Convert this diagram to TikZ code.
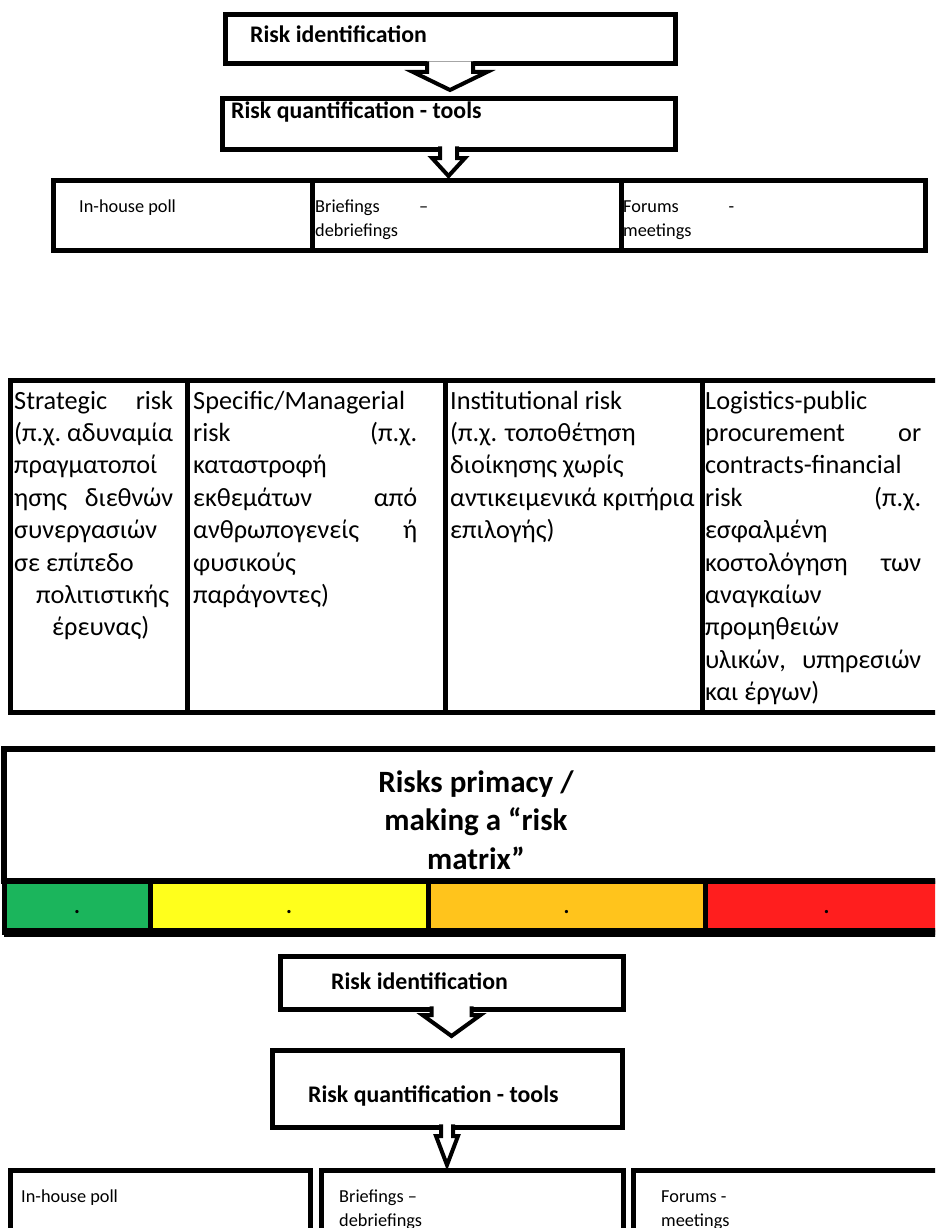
\documentclass[tikz,border=0pt]{standalone}
\usepackage{fontspec}
\setmainfont{Carlito}
\usepackage{tikz}
\usepackage{xcolor}
\usetikzlibrary{calc}

\definecolor{lowgreen}{RGB}{27,181,92}
\definecolor{midyellow}{RGB}{255,255,28}
\definecolor{highorange}{RGB}{255,196,28}
\definecolor{critred}{RGB}{255,30,30}

\newcommand{\jline}[3]{\makebox[#1][l]{#2\hfill#3}}
\newcommand{\blockdown}[6]{%
  \filldraw[blockarrow] let \p1=(#1.south), \p2=(#2.north) in
    (\x1-#3pt,\y1+2.6pt) -- (\x1-#3pt,\y1-#5pt) -- (\x1-#4pt,\y1-#5pt)
    -- (\x1,\y2+#6pt) -- (\x1+#4pt,\y1-#5pt) -- (\x1+#3pt,\y1-#5pt)
    -- (\x1+#3pt,\y1+2.6pt);}

\tikzset{
  box/.style={rectangle, draw=black, line width=5pt, outer sep=0pt, inner sep=0pt},
  boxlabel/.style={anchor=base west, inner sep=0pt, font=\bfseries\fontsize{23.8}{28}\selectfont},
  celltext/.style={anchor=base west, inner sep=0pt, align=flush left, font=\fontsize{18.3}{24}\selectfont},
  gridtext/.style={anchor=base west, inner sep=0pt, align=flush left, font=\fontsize{26.3}{32.4}\selectfont},
  levelcell/.style={box, font=\bfseries\fontsize{22}{22}\selectfont, text height=16pt, text depth=2pt},
  blockarrow/.style={fill=white, draw=black, line width=4pt}
}

\begin{document}
\begin{tikzpicture}[x=1pt, y=-1pt]
\useasboundingbox (0,0) rectangle (935,1228);
\clip (0,0) rectangle (935,1228);
\fill[white] (0,0) rectangle (935,1228);

% first chain
\node[box, minimum width=450pt, minimum height=49pt] (ident1) at (450,39.5) {};
\node[box, minimum width=453pt, minimum height=50pt] (quant1) at (448.5,124) {};
\node[box, minimum width=259pt, minimum height=70pt] (poll1) at (182.5,215) {};
\node[box, minimum width=309pt, minimum height=70pt] (brief1) at (466.5,215) {};
\node[box, minimum width=304pt, minimum height=70pt] (forum1) at (773,215) {};
\blockdown{ident1}{quant1}{23}{37}{8}{9}
\blockdown{quant1}{brief1}{8.5}{16.5}{9}{4}
\node[boxlabel] (ident1txt) at (250,43) {Risk identification};
\node[boxlabel] (quant1txt) at (231,119) {Risk quantification - tools};
\node[celltext] (poll1txt) at (79,212) {In-house poll};
\node[celltext, text width=150pt] (brief1txt) at (315,212) {\jline{113pt}{Briefings}{--}\\debriefings};
\node[celltext, text width=150pt] (forum1txt) at (623,212) {\jline{111pt}{Forums}{-}\\meetings};

% risk categories
\node[box, minimum width=177pt, minimum height=332pt] (strat) at (98.5,546) {};
\node[box, minimum width=258pt, minimum height=332pt] (spec) at (316,546) {};
\node[box, minimum width=257pt, minimum height=332pt] (inst) at (573.5,546) {};
\node[box, minimum width=246pt, minimum height=332pt] (logi) at (825,546) {};
\node[gridtext, text width=170pt] (strattxt) at (14,409) {\jline{159pt}{Strategic}{risk}\\\jline{159pt}{(π.χ.}{αδυναμία}\\πραγματοποί\\\jline{159pt}{ησης}{διεθνών}\\συνεργασιών\\σε επίπεδο\\\hspace*{22pt}πολιτιστικής\\\hspace*{38pt}έρευνας)};
\node[gridtext, text width=240pt] (spectxt) at (193,409) {Specific/Managerial\\\jline{224pt}{risk}{(π.χ.}\\καταστροφή\\\jline{224pt}{εκθεμάτων}{από}\\\jline{224pt}{ανθρωπογενείς}{ή}\\φυσικούς\\παράγοντες)};
\node[gridtext, text width=270pt] (insttxt) at (450,409) {Institutional risk\\(π.χ. τοποθέτηση\\διοίκησης χωρίς\\αντικειμενικά κριτήρια\\επιλογής)};
\node[gridtext, text width=230pt] (logitxt) at (705,409) {Logistics-public\\\jline{216pt}{procurement}{or}\\contracts-financial\\\jline{216pt}{risk}{(π.χ.}\\εσφαλμένη\\\jline{216pt}{κοστολόγηση}{των}\\αναγκαίων\\προμηθειών\\\jline{216pt}{υλικών,}{υπηρεσιών}\\και έργων)};

% risk matrix
\node[box, line width=6pt, minimum width=944pt, minimum height=132pt] (primacy) at (476,815) {};
\node[anchor=base, align=flush center, text width=320pt, inner sep=0pt, font=\bfseries\fontsize{31}{38.5}\selectfont] (primacytxt) at (476,792) {Risks primacy /\\making a “risk\\matrix”};
\node[levelcell, fill=lowgreen, minimum width=146pt, minimum height=51pt] (low) at (77,906.5) {.};
\node[levelcell, fill=midyellow, minimum width=278pt, minimum height=51pt] (mid) at (289,906.5) {.};
\node[levelcell, fill=highorange, minimum width=277pt, minimum height=51pt] (high) at (566.5,906.5) {.};
\node[levelcell, fill=critred, minimum width=243pt, minimum height=51pt] (crit) at (826.5,906.5) {.};
\draw[line width=9pt] (low.south west) -- (crit.south east);

% second chain
\node[box, minimum width=343pt, minimum height=53pt] (ident2) at (451.5,982.5) {};
\node[box, minimum width=350pt, minimum height=77pt] (quant2) at (447,1088.5) {};
\node[box, minimum width=300pt, minimum height=90pt] (poll2) at (160,1215) {};
\node[box, minimum width=302pt, minimum height=90pt] (brief2) at (472,1215) {};
\node[box, minimum width=312pt, minimum height=90pt] (forum2) at (789,1215) {};
\blockdown{ident2}{quant2}{20}{29}{6}{14}
\blockdown{quant2}{brief2}{6}{11}{9}{5}
\node[boxlabel] (ident2txt) at (331,989) {Risk identification};
\node[boxlabel] (quant2txt) at (308,1102) {Risk quantification - tools};
\node[celltext] (poll2txt) at (21,1202) {In-house poll};
\node[celltext, text width=150pt] (brief2txt) at (339,1202) {Briefings --\\debriefings};
\node[celltext, text width=150pt] (forum2txt) at (661,1202) {Forums -\\meetings};
\end{tikzpicture}
\end{document}
